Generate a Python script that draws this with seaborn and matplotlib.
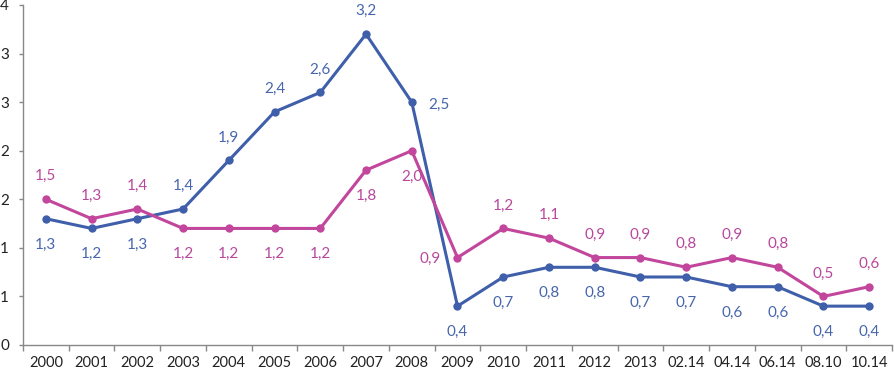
import numpy as np
import seaborn as sns
import matplotlib as mpl
mpl.use('Agg')
import matplotlib.pyplot as plt

categories = ["2000", "2001", "2002", "2003", "2004", "2005", "2006", "2007",
              "2008", "2009", "2010", "2011", "2012", "2013", "02.14", "04.14",
              "06.14", "08.10", "10.14"]
blue_vals = [1.3, 1.2, 1.3, 1.4, 1.9, 2.4, 2.6, 3.2, 2.5, 0.4, 0.7, 0.8, 0.8,
             0.7, 0.7, 0.6, 0.6, 0.4, 0.4]
pink_vals = [1.5, 1.3, 1.4, 1.2, 1.2, 1.2, 1.2, 1.8, 2.0, 0.9, 1.2, 1.1, 0.9,
             0.9, 0.8, 0.9, 0.8, 0.5, 0.6]
# label placement: a = above, b = below, r = right, l = left
blue_pos = ["b", "b", "b", "a", "a", "a", "a", "a", "r", "b", "b", "b", "b",
            "b", "b", "b", "b", "b", "b"]
pink_pos = ["a", "a", "a", "b", "b", "b", "b", "b", "b", "l", "a", "a", "a",
            "a", "a", "a", "a", "a", "a"]

BLUE = "#3F5FAA"
PINK = "#C1469C"

sns.set_theme(style="white")
plt.rcParams['font.family'] = ['Lato', 'DejaVu Sans']

fig = plt.figure(figsize=(8.95, 3.69), dpi=100)
ax = fig.add_axes([23 / 895, 1 - 345 / 369, 869 / 895, 340 / 369])

x = np.arange(len(categories))
sns.lineplot(x=x, y=blue_vals, color=BLUE, lw=2.2, marker="o", ms=6,
             markeredgewidth=0, ax=ax)
sns.lineplot(x=x, y=pink_vals, color=PINK, lw=2.2, marker="o", ms=6,
             markeredgewidth=0, ax=ax)

offsets = {"a": (0, 16.5), "b": (0, -18.5), "r": (19.5, -2), "l": (-19.5, -1)}


def put_labels(vals, pos, color):
    for xi, v, p in zip(x, vals, pos):
        ax.annotate(f"{v:.1f}".replace(".", ","), (xi, v),
                    xytext=offsets[p], textcoords="offset points",
                    ha="center", va="center", fontsize=11, color=color)


put_labels(blue_vals, blue_pos, "#4866AE")
put_labels(pink_vals, pink_pos, "#B8489C")

ax.set_xlim(-0.5, len(categories) - 0.5)
ax.set_ylim(0, 3.5)
ax.set_xticks(x)
ax.set_xticklabels(categories, fontsize=10.5, color="#222222")
ax.set_xticks(np.arange(-0.5, len(categories)), minor=True)
ax.tick_params(axis="x", which="major", length=0, pad=8)
ax.tick_params(axis="x", which="minor", length=4, color="#888888", width=1,
               direction="out", bottom=True)

yt = np.arange(0, 3.51, 0.5)
ax.set_yticks(yt)
ax.set_yticklabels([f"{int(np.floor(t + 0.5))}" for t in yt], fontsize=11,
                   color="#222222")
ax.tick_params(axis="y", length=3, color="#888888", width=1, direction="out",
               left=True, pad=7)

for s in ["top", "right"]:
    ax.spines[s].set_visible(False)
for s in ["left", "bottom"]:
    ax.spines[s].set_color("#888888")
    ax.spines[s].set_linewidth(1)

fig.savefig("out.png", dpi=100)
